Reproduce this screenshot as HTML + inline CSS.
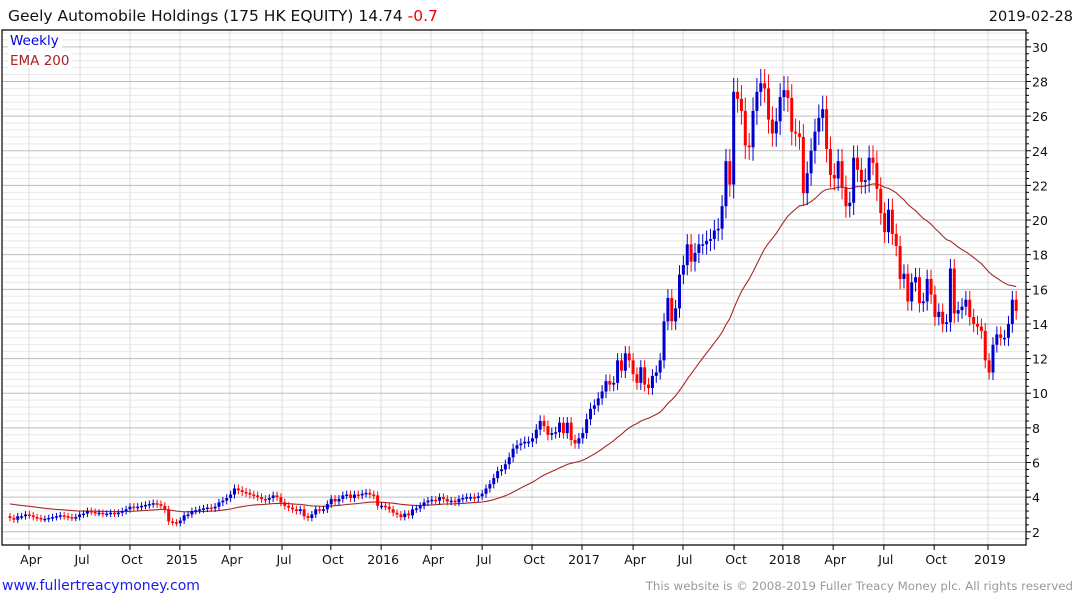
<!DOCTYPE html>
<html><head><meta charset="utf-8"><style>
html,body{margin:0;padding:0;background:#fff;}
svg{display:block;font-family:"DejaVu Sans","Liberation Sans",sans-serif;}
</style></head><body>
<svg id="chart" width="1075" height="600" viewBox="0 0 1075 600" xmlns="http://www.w3.org/2000/svg">
<g id="grid"></g>
<g id="ema"></g>
<g id="candles"></g>
<g id="axes"></g>
<text x="8" y="21" font-size="15.5" fill="#111">Geely Automobile Holdings (175 HK EQUITY) 14.74 <tspan fill="#ee0000">-0.7</tspan></text>
<text x="1073" y="21" font-size="14.5" fill="#111" text-anchor="end">2019-02-28</text>
<rect x="8" y="32" width="54" height="17" fill="#fff"/>
<text x="10" y="45" font-size="13.5" fill="#0000dd">Weekly</text>
<rect x="8" y="51" width="64" height="17" fill="#fff"/>
<text x="10" y="65" font-size="13.5" fill="#aa2222">EMA 200</text>
<text x="2" y="590" font-size="14" fill="#1a1aee">www.fullertreacymoney.com</text>
<text x="1073" y="590" font-size="11.8" fill="#999" text-anchor="end">This website is © 2008-2019 Fuller Treacy Money plc. All rights reserved</text>
</svg>
<script>
const closes = [
2.8,2.7,2.9,2.9,3.0,2.95,2.85,2.8,2.75,2.75,2.8,
2.85,2.9,2.95,2.9,2.85,2.8,2.85,3.0,3.05,3.2,
3.15,3.1,3.1,3.05,3.05,3.1,3.05,3.1,3.2,3.3,
3.45,3.4,3.45,3.5,3.55,3.6,3.65,3.6,3.5,3.3,
2.6,2.55,2.5,2.65,2.95,3.0,3.2,3.25,3.3,3.35,
3.4,3.35,3.45,3.7,3.8,3.95,4.15,4.5,4.4,4.3,
4.25,4.15,4.1,4.0,3.9,3.85,3.95,4.1,4.0,3.7,
3.5,3.4,3.3,3.2,3.3,2.9,2.8,3.0,3.3,3.25,
3.3,3.6,3.9,3.75,3.9,4.1,4.15,3.95,4.15,4.1,
4.2,4.25,4.15,4.1,3.5,3.5,3.45,3.3,3.1,3.0,
2.85,3.05,2.95,3.3,3.35,3.5,3.7,3.8,3.85,3.8,
4.0,3.9,3.75,3.8,3.7,3.9,3.95,4.0,4.0,3.95,
4.05,4.2,4.5,4.75,5.1,5.5,5.6,5.9,6.3,6.8,
7.0,7.1,7.2,7.2,7.4,7.9,8.4,8.1,7.6,7.7,
7.75,8.3,7.7,8.3,7.3,7.1,7.4,7.7,8.5,9.1,
9.3,9.7,10.1,10.7,10.5,10.6,11.9,11.3,12.3,11.9,
11.1,10.6,11.5,10.5,10.3,11.0,11.2,11.9,14.15,15.5,
14.15,14.9,16.85,17.4,18.6,17.6,18.1,18.6,18.6,18.8,
18.9,19.4,19.5,20.8,23.4,22.05,27.4,27.0,26.3,24.3,
24.2,26.3,27.4,27.9,27.6,25.8,25.0,25.7,27.1,27.5,
27.05,25.1,25.0,24.8,
21.55,22.7,24.0,25.1,25.9,26.4,24.1,22.6,22.4,23.4,
21.9,20.8,21.0,23.6,22.9,22.2,22.3,23.6,23.3,21.8,
20.4,19.3,20.6,19.2,18.5,16.6,16.9,15.3,16.4,16.7,
15.2,15.3,16.6,15.7,14.4,14.7,14.0,14.1,17.2,14.6,
14.8,15.0,15.4,14.4,14.0,13.85,13.6,11.9,11.2,12.8,
13.4,13.2,13.2,14.0,15.4,14.75
];
const firstOpen = 2.9;
const emaSeed = 3.65;
const emaPeriodWeeks = 45;
const yTicks = [2,4,6,8,10,12,14,16,18,20,22,24,26,28,30];
const xTickLabels = ["Apr","Jul","Oct","2015","Apr","Jul","Oct","2016","Apr","Jul","Oct","2017","Apr","Jul","Oct","2018","Apr","Jul","Oct","2019"];
const xTickWeeks = [4.9,18.1,31,43.9,56.8,70.3,82.9,95.9,108.8,122,134.9,147.8,161,173.9,187.1,199.7,212.7,225.8,238.8,252.7];

const NS = "http://www.w3.org/2000/svg";
const L = 2, R = 1026, T = 30, B = 545;
const xScale = i => 10 + i * 3.87;
const yScale = v => 531.8 - (v - 2) * 17.32;
function mk(tag, attrs, parent) {
  const e = document.createElementNS(NS, tag);
  for (const k in attrs) e.setAttribute(k, attrs[k]);
  parent.appendChild(e);
  return e;
}
const grid = document.getElementById('grid');
const axes = document.getElementById('axes');
for (let v = 1.2; v <= 30.9; v += 0.4) {
  const y = yScale(v);
  if (y < T || y > B) continue;
  const isMajor = Math.abs(v / 2 - Math.round(v / 2)) < 0.01;
  if (isMajor) continue;
  const ln = mk('line', {x1: L, x2: R, y1: y, y2: y, stroke: '#e8e8e8', 'stroke-width': 1}, grid);
  
  
  const tk = mk('line', {x1: R, x2: R + 3, y1: y, y2: y, stroke: '#000', 'stroke-width': 1}, axes);
  
  
}
xTickWeeks.forEach((w, k) => {
  const x = xScale(w);
  const ln = mk('line', {x1: x, x2: x, y1: T, y2: B, stroke: '#dcdcdc', 'stroke-width': 1}, grid);
  
  
  const tk = mk('line', {x1: x, x2: x, y1: B, y2: B + 5, stroke: '#000', 'stroke-width': 1}, axes);
  
  
  const t = mk('text', {x: x + 2, y: 564, 'font-size': 12.5, 'text-anchor': 'middle', fill: '#111'}, axes);
  t.textContent = xTickLabels[k];
  
  
});
yTicks.forEach(v => {
  const y = yScale(v);
  const ln = mk('line', {x1: L, x2: R, y1: y, y2: y, stroke: '#bdbdbd', 'stroke-width': 1}, grid);
  
  
  const tk = mk('line', {x1: R, x2: R + 5, y1: y, y2: y, stroke: '#000', 'stroke-width': 1}, axes);
  
  
  const t = mk('text', {x: 1032, y: y + 5, 'font-size': 12.5, fill: '#111'}, axes);
  t.textContent = v;
  
  
});
const fr = mk('path', {d: `M${L} ${T} H${R} V${B} H${L} Z`, fill: 'none', stroke: '#000', 'stroke-width': 1.2}, axes);



const alpha = 2 / (emaPeriodWeeks + 1);
let e = emaSeed;
const pts = [];
closes.forEach((c, i) => {
  e = e + alpha * (c - e);
  pts.push(xScale(i).toFixed(1) + ',' + yScale(e).toFixed(1));
});
const emaLine = mk('polyline', {points: pts.join(' '), fill: 'none', stroke: '#a52a2a', 'stroke-width': 1.1}, document.getElementById('ema'));



const cg = document.getElementById('candles');
closes.forEach((c, i) => {
  const o = i === 0 ? firstOpen : closes[i - 1];
  const up = c >= o;
  const col = up ? '#0000cc' : '#ff0000';
  const hi = Math.max(o, c), lo = Math.min(o, c);
  const wick = 0.12 + hi * 0.025;
  const x = xScale(i);
  const g = mk('g', {}, cg);
  
  
  mk('line', {x1: x, x2: x, y1: yScale(hi + wick), y2: yScale(lo - wick), stroke: col, 'stroke-width': 1}, g);
  const yt = yScale(hi), yb = yScale(lo);
  mk('rect', {x: x - 1.5, y: yt, width: 3, height: Math.max(1.5, yb - yt), fill: col}, g);
});
</script>
</body></html>
